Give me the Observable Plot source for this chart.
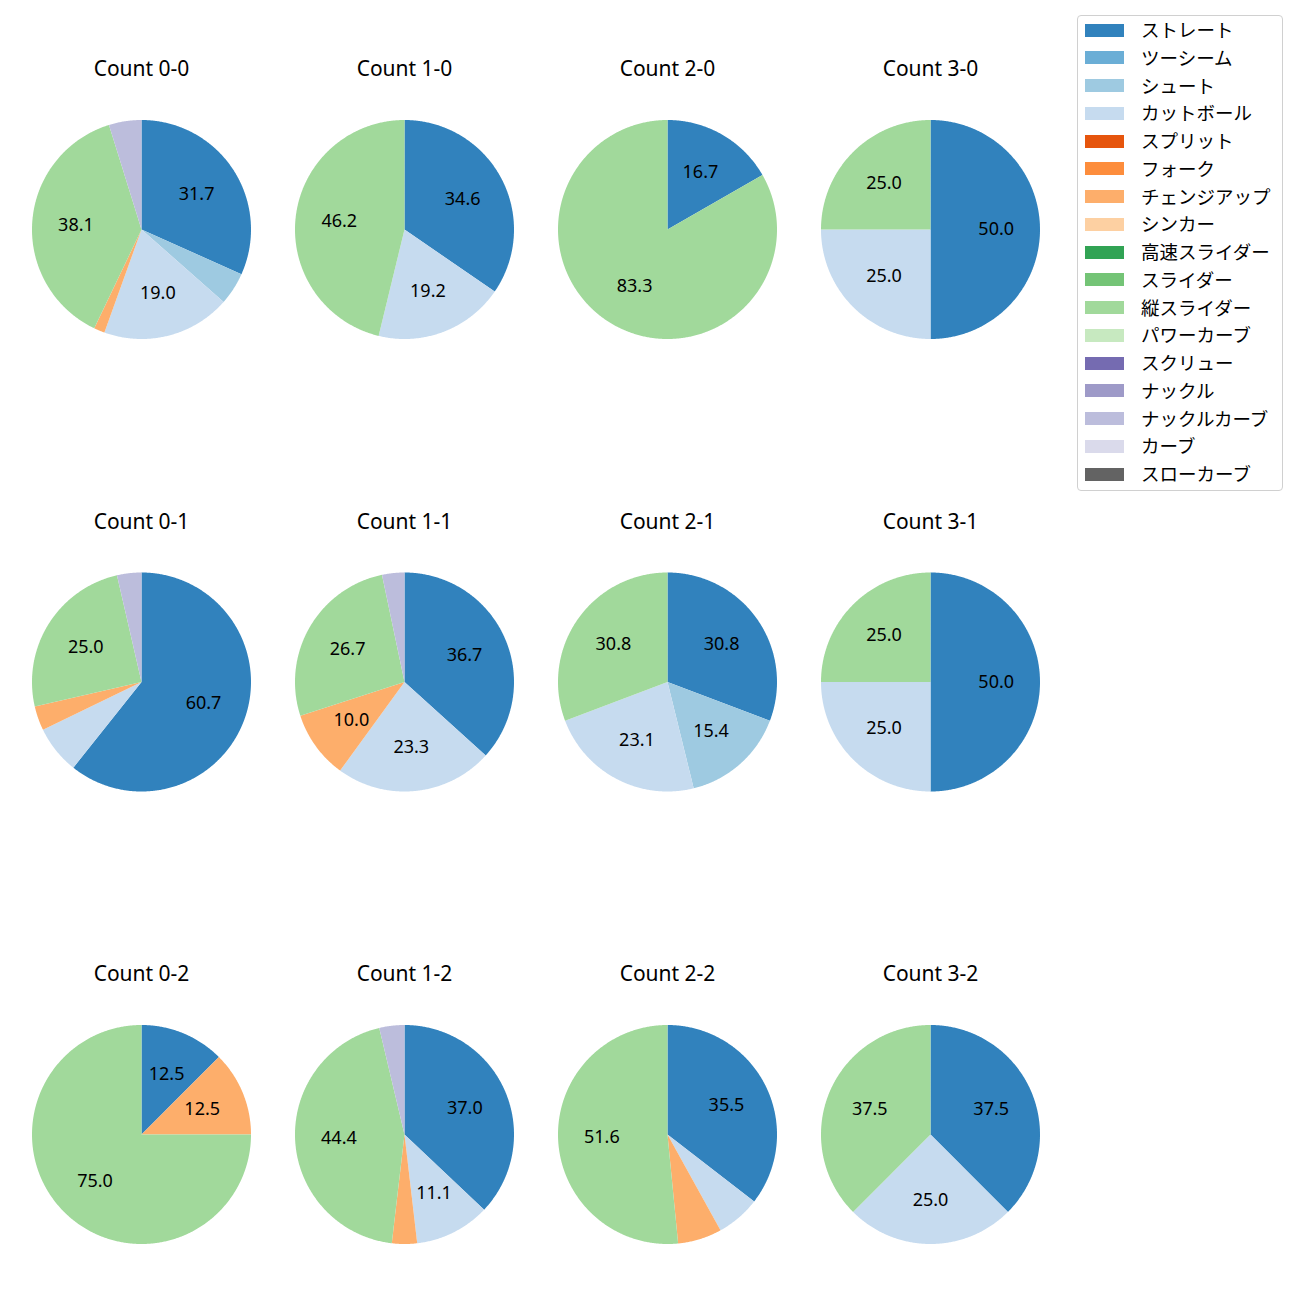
<!DOCTYPE html>
<html>
<head>
<meta charset="utf-8">
<script src="https://cdn.jsdelivr.net/npm/d3@7"></script>
<script src="https://cdn.jsdelivr.net/npm/@observablehq/plot@0.6"></script>
<style>
  body { margin: 0; background: #fff; font-family: "Noto Sans CJK JP", "Noto Sans", sans-serif; }
  #wrap { position: relative; width: 1300px; height: 1300px; }
  #legend { position: absolute; left: 1077px; top: 15px; width: 206px; height: 476px;
            border: 1px solid #d0d0d0; border-radius: 4px; box-sizing: border-box; background: #fff; }
  .sw { position: absolute; left: 7px; width: 39px; height: 13px; }
  .lb { position: absolute; left: 63px; font-size: 18.5px; white-space: nowrap; color: #000; line-height: 20px; }
</style>
</head>
<body>
<div id="wrap"><div id="chart"></div><div id="legend"></div></div>
<script>
// Pitch types (legend order) and their colours
const pitchTypes = ["ストレート","ツーシーム","シュート","カットボール","スプリット","フォーク","チェンジアップ","シンカー","高速スライダー","スライダー","縦スライダー","パワーカーブ","スクリュー","ナックル","ナックルカーブ","カーブ","スローカーブ"];
const pitchColors = ["#3182bd","#6baed6","#9ecae1","#c6dbef","#e6550d","#fd8d3c","#fdae6b","#fdd0a2","#31a354","#74c476","#a1d99b","#c7e9c0","#756bb1","#9e9ac8","#bcbddc","#dadaeb","#636363"];

// Counts: balls-strikes; columns = balls, rows = strikes
const countLabels = ["0-0","1-0","2-0","3-0","0-1","1-1","2-1","3-1","0-2","1-2","2-2","3-2"];

// Percentages per count (same order as pitchTypes)
//                ストレ ツー シュ  カット スプ フォ チェン シン 高ス スラ 縦スラ パワ スク ナク ナクカ カー スロ
const pct_0_0 = [31.7, 0, 4.8,  19.0, 0, 0, 1.6,  0, 0, 0, 38.1, 0, 0, 0, 4.8, 0, 0];
const pct_1_0 = [34.6, 0, 0,    19.2, 0, 0, 0,    0, 0, 0, 46.2, 0, 0, 0, 0,   0, 0];
const pct_2_0 = [16.7, 0, 0,    0,    0, 0, 0,    0, 0, 0, 83.3, 0, 0, 0, 0,   0, 0];
const pct_3_0 = [50.0, 0, 0,    25.0, 0, 0, 0,    0, 0, 0, 25.0, 0, 0, 0, 0,   0, 0];
const pct_0_1 = [60.7, 0, 0,    7.1,  0, 0, 3.6,  0, 0, 0, 25.0, 0, 0, 0, 3.6, 0, 0];
const pct_1_1 = [36.7, 0, 0,    23.3, 0, 0, 10.0, 0, 0, 0, 26.7, 0, 0, 0, 3.3, 0, 0];
const pct_2_1 = [30.8, 0, 15.4, 23.1, 0, 0, 0,    0, 0, 0, 30.8, 0, 0, 0, 0,   0, 0];
const pct_3_1 = [50.0, 0, 0,    25.0, 0, 0, 0,    0, 0, 0, 25.0, 0, 0, 0, 0,   0, 0];
const pct_0_2 = [12.5, 0, 0,    0,    0, 0, 12.5, 0, 0, 0, 75.0, 0, 0, 0, 0,   0, 0];
const pct_1_2 = [37.0, 0, 0,    11.1, 0, 0, 3.7,  0, 0, 0, 44.4, 0, 0, 0, 3.7, 0, 0];
const pct_2_2 = [35.5, 0, 0,    6.5,  0, 0, 6.5,  0, 0, 0, 51.6, 0, 0, 0, 0,   0, 0];
const pct_3_2 = [37.5, 0, 0,    25.0, 0, 0, 0,    0, 0, 0, 37.5, 0, 0, 0, 0,   0, 0];
const pctByCount = [pct_0_0, pct_1_0, pct_2_0, pct_3_0, pct_0_1, pct_1_1, pct_2_1, pct_3_1, pct_0_2, pct_1_2, pct_2_2, pct_3_2];

// Layout (pixel geometry -> scale units; 1 unit = pie radius)
const U = 109.5;
const colStep = 263 / U, rowStep = 452.5 / U;
const x0 = 141 / U, y0 = 229 / U;
const titleOffset = 160 / U;

const slicePts = [], labels = [], titles = [];
countLabels.forEach((c, k) => {
  const col = k % 4, row = Math.floor(k / 4);
  const cx = col * colStep, cy = row * rowStep;
  const vals = pctByCount[k];
  const total = d3.sum(vals);
  titles.push({x: cx, y: cy - titleOffset, text: "Count " + c});
  let acc = 0;
  vals.forEach((v, i) => {
    if (!v) return;
    const a0 = acc / total * 2 * Math.PI;
    acc += v;
    const a1 = acc / total * 2 * Math.PI;
    const id = c + "|" + i;
    slicePts.push({id, pitch: pitchTypes[i], x: cx, y: cy});
    const n = Math.max(2, Math.ceil((a1 - a0) / (Math.PI / 360)));
    for (let j = 0; j <= n; j++) {
      const a = a0 + (a1 - a0) * j / n;
      slicePts.push({id, pitch: pitchTypes[i], x: cx + Math.sin(a), y: cy - Math.cos(a)});
    }
    slicePts.push({id, pitch: pitchTypes[i], x: cx, y: cy});
    if (v >= 10) {
      const m = (a0 + a1) / 2;
      labels.push({x: cx + 0.6 * Math.sin(m), y: cy - 0.6 * Math.cos(m), text: v.toFixed(1)});
    }
  });
});

const chart = Plot.plot({
  width: 1300,
  height: 1300,
  margin: 0,
  style: {fontFamily: '"Noto Sans", "Noto Sans CJK JP", sans-serif', background: "white"},
  x: {domain: [-x0, 1300 / U - x0], axis: null},
  y: {domain: [-y0, 1300 / U - y0], reverse: true, axis: null},
  color: {domain: pitchTypes, range: pitchColors},
  marks: [
    Plot.line(slicePts, {x: "x", y: "y", z: "id", fill: "pitch", stroke: "none", curve: "linear"}),
    Plot.text(labels, {x: "x", y: "y", text: "text", fontSize: 18, fill: "#000"}),
    Plot.text(titles, {x: "x", y: "y", text: "text", fontSize: 21, fill: "#000"})
  ]
});
document.getElementById("chart").appendChild(chart);

// Legend
const leg = document.getElementById("legend");
pitchTypes.forEach((p, i) => {
  const cyRow = 14 + i * 27.75;
  const sw = document.createElement("div");
  sw.className = "sw";
  sw.style.top = (cyRow - 6.5) + "px";
  sw.style.background = pitchColors[i];
  leg.appendChild(sw);
  const lb = document.createElement("div");
  lb.className = "lb";
  lb.style.top = (cyRow - 11) + "px";
  lb.textContent = p;
  leg.appendChild(lb);
});
</script>
</body>
</html>
